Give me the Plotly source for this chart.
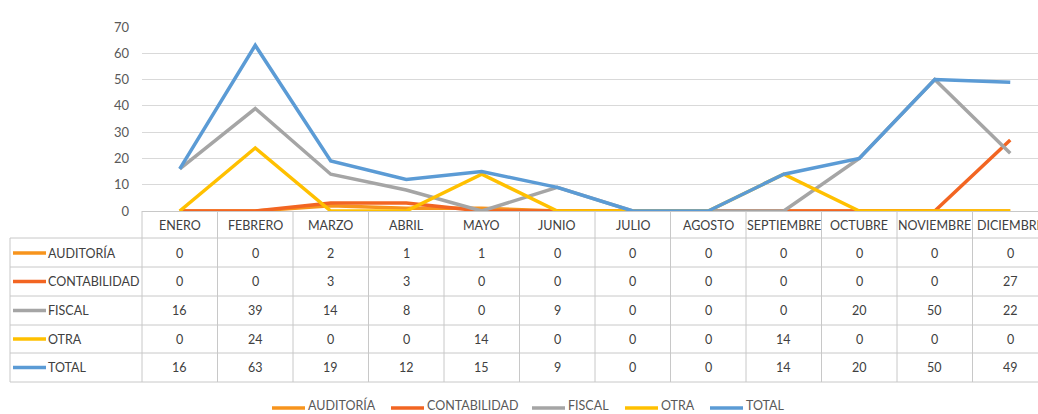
import plotly.graph_objects as go

months = ["ENERO", "FEBRERO", "MARZO", "ABRIL", "MAYO", "JUNIO", "JULIO",
          "AGOSTO", "SEPTIEMBRE", "OCTUBRE", "NOVIEMBRE", "DICIEMBRE"]
auditoria =    [0, 0, 2, 1, 1, 0, 0, 0, 0, 0, 0, 0]
contabilidad = [0, 0, 3, 3, 0, 0, 0, 0, 0, 0, 0, 27]
fiscal =       [16, 39, 14, 8, 0, 9, 0, 0, 0, 20, 50, 22]
otra =         [0, 24, 0, 0, 14, 0, 0, 0, 14, 0, 0, 0]
total =        [16, 63, 19, 12, 15, 9, 0, 0, 14, 20, 50, 49]

series_names = ["AUDITORÍA", "CONTABILIDAD", "FISCAL", "OTRA", "TOTAL"]
series_values = [auditoria, contabilidad, fiscal, otra, total]
series_colors = ["#F7941D", "#F26522", "#A5A5A5", "#FFC000", "#5B9BD5"]

W, H = 1038, 414
PLOT_L = 142
FONT = "Lato, Roboto, sans-serif"
TXT = "#404040"
GRID = "#D9D9D9"
BORDER = "#C8C8C8"
LINE_W = 3.5

def py(pix):
    return (H - pix) / H

def px_(pix):
    return (pix - PLOT_L) / (W - PLOT_L)

fig = go.Figure()
for name, vals, col in zip(series_names, series_values, series_colors):
    fig.add_trace(go.Scatter(x=months, y=vals, name=name, mode="lines",
                             line=dict(color=col, width=LINE_W), showlegend=False))

col_w = 75.5
xr_max = -0.5 + (W - PLOT_L) / col_w

annotations = []
shapes = []
tfont = dict(family=FONT, size=12.5, color=TXT)

# header row: month names
for m in months:
    annotations.append(dict(x=m, xref="x", y=py(225), yref="paper", text=m,
                            showarrow=False, font=tfont,
                            xanchor="center", yanchor="middle"))

row_centers = [253, 281.5, 310.5, 339, 367.5]
row_lines = [238, 267, 296, 325, 353, 382]

for r, (name, vals, col) in enumerate(zip(series_names, series_values, series_colors)):
    yc = row_centers[r]
    shapes.append(dict(type="line", xref="paper", yref="paper",
                       x0=px_(13), x1=px_(46), y0=py(yc), y1=py(yc),
                       line=dict(color=col, width=LINE_W)))
    annotations.append(dict(x=px_(46), xref="paper", y=py(yc), yref="paper", text=name,
                            showarrow=False, font=tfont,
                            xanchor="left", yanchor="middle"))
    for m, v in zip(months, vals):
        annotations.append(dict(x=m, xref="x", y=py(yc), yref="paper", text=str(v),
                                showarrow=False, font=tfont,
                                xanchor="center", yanchor="middle"))

for yl in row_lines:
    shapes.append(dict(type="line", xref="paper", yref="paper",
                       x0=px_(10), x1=1.0, y0=py(yl), y1=py(yl),
                       line=dict(color=BORDER, width=1)))
for j in range(1, len(months) + 1):
    shapes.append(dict(type="line", xref="x", yref="paper",
                       x0=j - 0.5, x1=j - 0.5, y0=py(211), y1=py(382),
                       line=dict(color=BORDER, width=1)))
shapes.append(dict(type="line", xref="paper", yref="paper",
                   x0=0, x1=0, y0=py(211), y1=py(382), line=dict(color=BORDER, width=1)))
shapes.append(dict(type="line", xref="paper", yref="paper",
                   x0=px_(10), x1=px_(10), y0=py(238), y1=py(382), line=dict(color=BORDER, width=1)))

# bottom legend (built from the series names and colours)
legend_starts = [272, 391, 532, 625, 710]
legend_y = 408
for name, col, x0 in zip(series_names, series_colors, legend_starts):
    shapes.append(dict(type="line", xref="paper", yref="paper",
                       x0=px_(x0), x1=px_(x0 + 33), y0=py(legend_y), y1=py(legend_y),
                       line=dict(color=col, width=LINE_W)))
    annotations.append(dict(x=px_(x0 + 35), xref="paper", y=py(H), yref="paper",
                            text=name, showarrow=False, borderpad=0,
                            font=dict(family=FONT, size=12.5, color="#595959"),
                            xanchor="left", yanchor="bottom"))

fig.update_layout(
    width=W, height=H,
    margin=dict(l=PLOT_L, r=0, t=0, b=0),
    paper_bgcolor="white", plot_bgcolor="white",
    font=dict(family=FONT, size=12.5, color=TXT),
    xaxis=dict(range=[-0.5, xr_max], showticklabels=False, showgrid=False,
               zeroline=False, showline=True, linecolor=BORDER, linewidth=1,
               ticks="", automargin=False),
    yaxis=dict(range=[0, 70], domain=[py(211), py(27)], dtick=10,
               showgrid=True, gridcolor=GRID, gridwidth=1, zeroline=False,
               showline=False, ticks="", ticklabelstandoff=12, automargin=False,
               tickfont=dict(family=FONT, size=13, color="#595959")),
    showlegend=False,
    annotations=annotations,
    shapes=shapes,
)

fig.write_html("out.html", config={"displayModeBar": False},
               post_script="document.body.style.margin='0';document.body.style.overflow='hidden';")
